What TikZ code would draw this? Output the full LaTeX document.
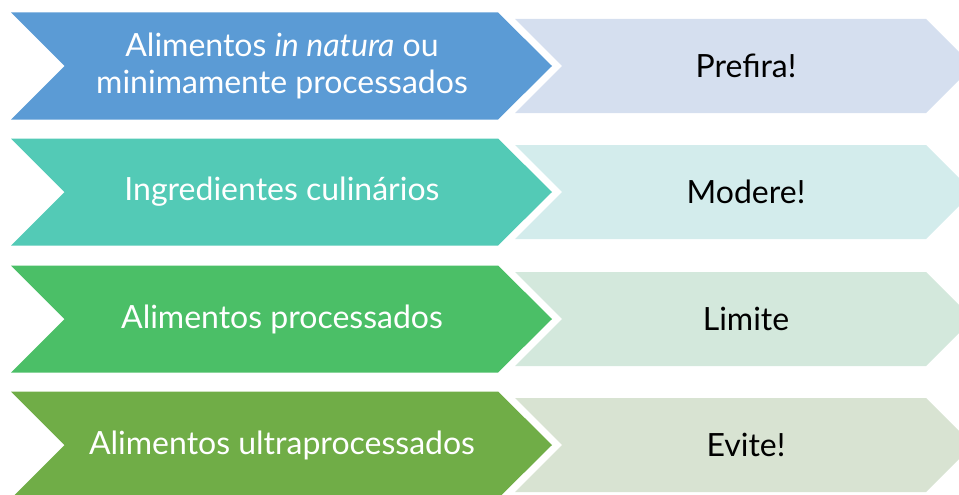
\documentclass[tikz,border=0pt]{standalone}
\usepackage{fontspec}
\setmainfont{Lato}
\definecolor{d1}{HTML}{5B9BD5}
\definecolor{l1}{HTML}{D5DFEF}
\definecolor{d2}{HTML}{53CAB6}
\definecolor{l2}{HTML}{D3ECEC}
\definecolor{d3}{HTML}{4BBF67}
\definecolor{l3}{HTML}{D3E8DC}
\definecolor{d4}{HTML}{70AD47}
\definecolor{l4}{HTML}{D8E3D2}
\tikzset{
  darktext/.style={text=white, align=center, inner sep=0pt, font=\fontsize{32}{37}\selectfont},
  lighttext/.style={text=black, align=center, inner sep=0pt, font=\fontsize{32}{37}\selectfont},
}
\newcommand{\rowchev}[6]{%
  % #1 center y, #2 dark colour, #3 light colour, #4 dark text, #5 light text, #6 name
  \fill[#2] (11,#1-53.5) -- (498,#1-53.5) -- (552,#1) -- (498,#1+53.5) -- (11,#1+53.5) -- (64.5,#1) -- cycle;
  \fill[#3] (515,#1-47) -- (926,#1-47) -- (973,#1) -- (926,#1+47) -- (515,#1+47) -- (562,#1) -- cycle;
  \node[darktext] (#6a) at (282,#1) {#4};
  \node[lighttext] (#6b) at (746,#1) {#5};
}
\begin{document}
\begin{tikzpicture}[x=1pt,y=-1pt]
\useasboundingbox (0,0) rectangle (959,495);
\clip (0,0) rectangle (959,495);
\rowchev{66}{d1}{l1}{Alimentos \textit{in natura} ou\\minimamente processados}{Prefira!}{r1}
\rowchev{192}{d2}{l2}{Ingredientes culinários}{Modere!}{r2}
\rowchev{319}{d3}{l3}{Alimentos processados}{Limite}{r3}
\rowchev{445}{d4}{l4}{Alimentos ultraprocessados}{Evite!}{r4}
\end{tikzpicture}
\end{document}
